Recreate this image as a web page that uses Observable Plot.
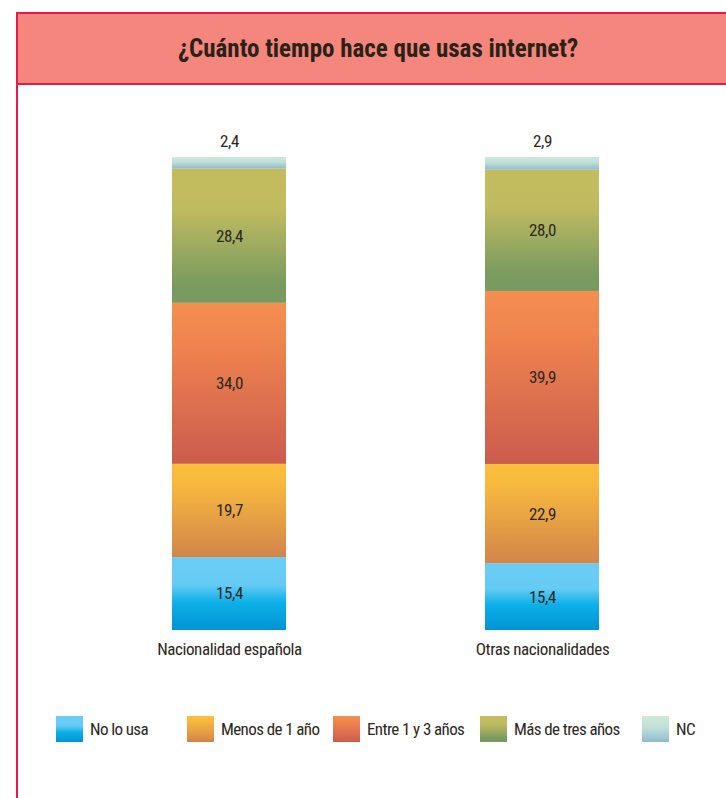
<!DOCTYPE html>
<html>
<head>
<meta charset="utf-8">
<script src="https://cdn.jsdelivr.net/npm/d3@7"></script>
<script src="https://cdn.jsdelivr.net/npm/@observablehq/plot@0.6"></script>
<style>
  html, body { margin: 0; padding: 0; background: #fff; }
  body { width: 726px; height: 798px; overflow: hidden; position: relative;
         font-family: "Roboto Condensed", "Open Sans Condensed", sans-serif; color: #2c271d; }
  #frame { position: absolute; left: 16px; top: 12px; bottom: -4px; width: 2px; background: #e9184b; }
  #title { position: absolute; left: 16px; top: 12px; width: 724px; height: 73px; box-sizing: border-box;
           background: #f4867e; border: 2px solid #e9184b; display: flex; align-items: center; justify-content: center;
           font-weight: bold; font-size: 25px; color: #2a2217; padding-bottom: 1px; }
  #chart { position: absolute; left: 0; top: 100px; }
  .lg { position: absolute; top: 716px; height: 26px; display: flex; align-items: center; font-size: 17px;
        letter-spacing: -0.6px; white-space: nowrap; }
  .lg .sw { width: 27px; height: 26px; margin-right: 7px; }
</style>
</head>
<body>
<div id="frame"></div>
<div id="title">¿Cuánto tiempo hace que usas internet?</div>
<div id="chart"></div>
<div id="legend"></div>
<script>
const groups = ["Nacionalidad española", "Otras nacionalidades"];
const categories = ["No lo usa", "Menos de 1 año", "Entre 1 y 3 años", "Más de tres años", "NC"];
const espanola = [15.4, 19.7, 34.0, 28.4, 2.4];
const otras = [15.4, 22.9, 39.9, 28.0, 2.9];

// gradient stops per category (offset, color) — styling only
const gradients = [
  [[0, "#6acdf5"], [0.38, "#66cbf4"], [0.62, "#0db0e8"], [1, "#0093d4"]],
  [[0, "#fcbf3c"], [0.2, "#f8b93e"], [1, "#d2854a"]],
  [[0, "#f48f4f"], [0.25, "#ef844f"], [1, "#cb5c4d"]],
  [[0, "#c3bc5f"], [0.3, "#c1bb5f"], [0.85, "#7b9b60"], [1, "#789a60"]],
  [[0, "#cce9da"], [0.45, "#c0dfd8"], [1, "#8dbccf"]]
];
const legendLeft = [56, 187, 333, 480, 642];

const rows = [];
[espanola, otras].forEach((vals, gi) => {
  vals.forEach((v, ci) => rows.push({group: groups[gi], cat: categories[ci], value: v}));
});
const fmt = v => v.toFixed(1).replace(".", ",");
const ink = "#2c271d";
const font = '"Roboto Condensed", "Open Sans Condensed", sans-serif';

const svg = Plot.plot({
  width: 726,
  height: 560,
  marginTop: 57,
  marginBottom: 30,
  marginLeft: 78,
  marginRight: 33,
  style: {fontFamily: font, fontSize: "17px", letterSpacing: "-0.4px", color: ink, background: "transparent", overflow: "visible"},
  x: {domain: groups, paddingInner: 0.636, paddingOuter: 0.3, label: null, tickSize: 0, tickPadding: 12},
  y: {axis: null},
  color: {domain: categories, range: categories.map((c, i) => `url(#grad${i})`)},
  marks: [
    Plot.barY(rows, Plot.stackY({x: "group", y: "value", fill: "cat", offset: "normalize"})),
    Plot.text(rows, Plot.stackY({
      x: "group", y: "value", offset: "normalize",
      text: d => d.cat === "NC" ? null : fmt(d.value),
      fill: ink, fontSize: 17, fontFamily: font
    })),
    Plot.text(rows, Plot.stackY2({
      x: "group", y: "value", offset: "normalize",
      text: d => d.cat === "NC" ? fmt(d.value) : null,
      fill: ink, fontSize: 17, fontFamily: font, dy: -16
    }))
  ]
});

const defs = d3.select(svg).insert("defs", ":first-child");
gradients.forEach((stops, i) => {
  const g = defs.append("linearGradient").attr("id", `grad${i}`)
    .attr("x1", 0).attr("y1", 0).attr("x2", 0).attr("y2", 1);
  stops.forEach(([o, c]) => g.append("stop").attr("offset", o).attr("stop-color", c));
});
document.getElementById("chart").appendChild(svg);

const legend = document.getElementById("legend");
categories.forEach((c, i) => {
  const item = document.createElement("div");
  item.className = "lg";
  item.style.left = legendLeft[i] + "px";
  const sw = document.createElement("div");
  sw.className = "sw";
  sw.style.background = "linear-gradient(to bottom, " +
    gradients[i].map(([o, col]) => `${col} ${o * 100}%`).join(", ") + ")";
  const t = document.createElement("span");
  t.textContent = c;
  item.appendChild(sw);
  item.appendChild(t);
  legend.appendChild(item);
});
</script>
</body>
</html>
